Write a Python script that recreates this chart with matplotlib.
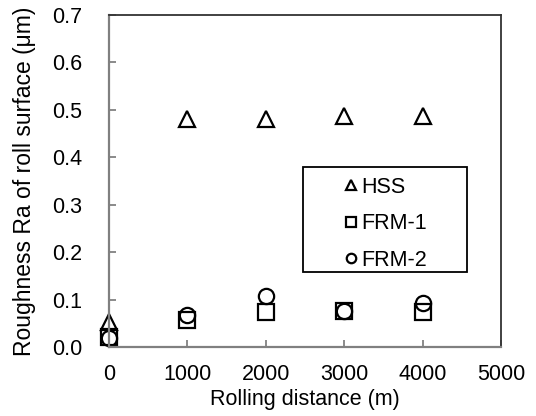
import matplotlib
matplotlib.use('Agg')
import matplotlib.pyplot as plt
from matplotlib.patches import Rectangle

# --------------------------------------------------------------------------
# Data
#
distance = [0, 1000, 2000, 3000, 4000]
hss = [0.052, 0.481, 0.481, 0.487, 0.487]
frm1 = [0.021, 0.057, 0.073, 0.076, 0.073]
frm2 = [0.018, 0.067, 0.107, 0.075, 0.093]

plt.rcParams['font.family'] = ['Liberation Sans', 'DejaVu Sans']
plt.rcParams['font.size'] = 15.5

fig = plt.figure(figsize=(5.36, 4.16), dpi=100)
ax = fig.add_axes([0.203, 0.166, 0.732, 0.798])

style = dict(linestyle='none', markerfacecolor='none', markeredgecolor='black',
             markeredgewidth=1.6, clip_on=False)
ax.plot(distance, hss, marker='^', markersize=12, label='HSS', **style)
ax.plot(distance, frm1, marker='s', markersize=11.5, label='FRM-1', **style)
ax.plot(distance, frm2, marker='o', markersize=11, label='FRM-2', **style)

ax.set_xlim(0, 5000)
ax.set_ylim(0, 0.7)
ax.set_xticks([0, 1000, 2000, 3000, 4000, 5000])
ax.set_yticks([0.0, 0.1, 0.2, 0.3, 0.4, 0.5, 0.6, 0.7])
ax.set_yticklabels(['%.1f' % v for v in ax.get_yticks()])
ax.tick_params(direction='in', length=5, width=1.2, color='#777777')
ax.tick_params(axis='y', pad=19)
ax.tick_params(axis='x', pad=12)

for side in ['left', 'bottom']:
    ax.spines[side].set_color('#808080')
    ax.spines[side].set_linewidth(1.6)
for side in ['top', 'right']:
    ax.spines[side].set_color('#333333')
    ax.spines[side].set_linewidth(1.3)

ax.set_xlabel('Rolling distance (m)', labelpad=3)
ax.set_ylabel('Roughness Ra of roll surface (\u03bcm)', labelpad=12,
              fontsize=16.5)

# Legend box is wider than its contents, so draw the frame separately
ax.add_patch(Rectangle((0.495, 0.226), 0.418, 0.316, transform=ax.transAxes,
                       facecolor='white', edgecolor='black', linewidth=1.3,
                       zorder=3))
leg = ax.legend(loc='upper left', bbox_to_anchor=(0.601, 0.512),
                frameon=False, markerscale=0.62, handlelength=0.6,
                handletextpad=0.15, borderpad=0, labelspacing=0.72,
                borderaxespad=0, fontsize=15.5)
leg.set_zorder(4)

fig.savefig('out.png', dpi=100)
